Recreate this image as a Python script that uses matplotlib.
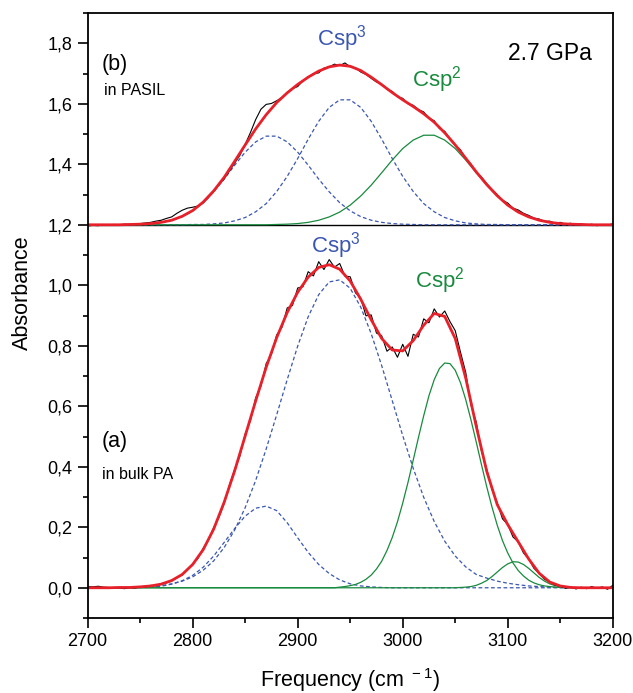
import numpy as np
import matplotlib
matplotlib.use('Agg')
import matplotlib.pyplot as plt
from matplotlib.ticker import MultipleLocator, FuncFormatter

plt.rcParams['font.family'] = ['Liberation Sans', 'DejaVu Sans']
plt.rcParams['mathtext.fontset'] = 'custom'
plt.rcParams['mathtext.rm'] = 'Liberation Sans'
plt.rcParams['mathtext.default'] = 'regular'

# frequency grids (cm-1)
freq_fit = np.arange(2700, 3201, 10)
freq_data = np.arange(2700, 3201, 5)

# (a) bulk PA - measured spectrum
bulk_data = [
    0.004, 0.003, 0.005, 0.002, 0.001, -0.002, 0.000, -0.003, 0.001, -0.001,
    0.003, 0.002, 0.008, 0.006, 0.014, 0.016, 0.022, 0.033, 0.042, 0.061,
    0.079, 0.097, 0.130, 0.158, 0.199, 0.233, 0.279, 0.340, 0.392, 0.436,
    0.509, 0.552, 0.628, 0.667, 0.741, 0.772, 0.836, 0.861, 0.925, 0.933,
    0.991, 0.995, 1.045, 1.031, 1.078, 1.052, 1.085, 1.060, 1.072, 1.030,
    1.028, 0.975, 0.958, 0.899, 0.902, 0.842, 0.833, 0.782, 0.796, 0.762,
    0.805, 0.765, 0.838, 0.829, 0.889, 0.876, 0.922, 0.895, 0.915, 0.880,
    0.850, 0.779, 0.712, 0.604, 0.548, 0.452, 0.392, 0.325, 0.281, 0.228,
    0.209, 0.168, 0.152, 0.115, 0.095, 0.064, 0.047, 0.028, 0.019, 0.009,
    0.005, -0.002, 0.003, -0.004, 0.002, -0.003, 0.004, -0.002, 0.003, -0.005,
    0.008]

# (a) fit and components
bulk_fit = [
    0.000, 0.000, 0.000, 0.001, 0.001, 0.003, 0.006, 0.012, 0.024, 0.044,
    0.077, 0.126, 0.194, 0.283, 0.387, 0.502, 0.618, 0.729, 0.827, 0.910,
    0.977, 1.027, 1.059, 1.068, 1.053, 1.014, 0.954, 0.886, 0.824, 0.786,
    0.783, 0.817, 0.868, 0.907, 0.897, 0.824, 0.693, 0.534, 0.385, 0.275,
    0.209, 0.152, 0.095, 0.048, 0.019, 0.006, 0.001, 0.000, 0.000, 0.000,
    0.000]
bulk_sp3_a = [
    0.000, 0.000, 0.000, 0.000, 0.000, 0.001, 0.002, 0.005, 0.012, 0.023,
    0.041, 0.068, 0.105, 0.150, 0.196, 0.237, 0.263, 0.270, 0.255, 0.215,
    0.165, 0.117, 0.077, 0.047, 0.026, 0.013, 0.006, 0.003, 0.001, 0.000,
    0.000, 0.000, 0.000, 0.000, 0.000, 0.000, 0.000, 0.000, 0.000, 0.000,
    0.000, 0.000, 0.000, 0.000, 0.000, 0.000, 0.000, 0.000, 0.000, 0.000,
    0.000]
bulk_sp3_b = [
    0.000, 0.000, 0.000, 0.001, 0.001, 0.002, 0.004, 0.007, 0.013, 0.022,
    0.036, 0.058, 0.089, 0.133, 0.191, 0.265, 0.355, 0.459, 0.572, 0.688,
    0.799, 0.896, 0.969, 1.011, 1.018, 0.990, 0.928, 0.840, 0.734, 0.619,
    0.503, 0.395, 0.299, 0.219, 0.154, 0.105, 0.069, 0.044, 0.032, 0.022,
    0.015, 0.010, 0.006, 0.004, 0.002, 0.001, 0.000, 0.000, 0.000, 0.000,
    0.000]
# the two sp2 bands are narrow, read on the 5 cm-1 grid
bulk_sp2_a = [
    0.000, 0.000, 0.000, 0.000, 0.000, 0.000, 0.000, 0.000, 0.000, 0.000,
    0.000, 0.000, 0.000, 0.000, 0.000, 0.000, 0.000, 0.000, 0.000, 0.000,
    0.000, 0.000, 0.000, 0.000, 0.000, 0.000, 0.000, 0.000, 0.000, 0.000,
    0.000, 0.000, 0.000, 0.000, 0.000, 0.000, 0.000, 0.000, 0.000, 0.000,
    0.000, 0.000, 0.000, 0.000, 0.000, 0.000, 0.000, 0.000, 0.002, 0.004,
    0.007, 0.011, 0.018, 0.028, 0.042, 0.062, 0.088, 0.123, 0.166, 0.218,
    0.280, 0.348, 0.422, 0.497, 0.569, 0.635, 0.688, 0.725, 0.743, 0.741,
    0.719, 0.678, 0.622, 0.555, 0.482, 0.407, 0.334, 0.267, 0.207, 0.156,
    0.115, 0.082, 0.057, 0.039, 0.025, 0.016, 0.010, 0.006, 0.004, 0.002,
    0.001, 0.001, 0.000, 0.000, 0.000, 0.000, 0.000, 0.000, 0.000, 0.000,
    0.000]
bulk_sp2_b = [
    0.000, 0.000, 0.000, 0.000, 0.000, 0.000, 0.000, 0.000, 0.000, 0.000,
    0.000, 0.000, 0.000, 0.000, 0.000, 0.000, 0.000, 0.000, 0.000, 0.000,
    0.000, 0.000, 0.000, 0.000, 0.000, 0.000, 0.000, 0.000, 0.000, 0.000,
    0.000, 0.000, 0.000, 0.000, 0.000, 0.000, 0.000, 0.000, 0.000, 0.000,
    0.000, 0.000, 0.000, 0.000, 0.000, 0.000, 0.000, 0.000, 0.000, 0.000,
    0.000, 0.000, 0.000, 0.000, 0.000, 0.000, 0.000, 0.000, 0.000, 0.000,
    0.000, 0.000, 0.000, 0.000, 0.000, 0.000, 0.000, 0.000, 0.000, 0.000,
    0.000, 0.001, 0.002, 0.004, 0.008, 0.015, 0.024, 0.037, 0.052, 0.067,
    0.079, 0.086, 0.085, 0.077, 0.064, 0.049, 0.034, 0.022, 0.013, 0.007,
    0.004, 0.002, 0.001, 0.000, 0.000, 0.000, 0.000, 0.000, 0.000, 0.000,
    0.000]

# (b) PASIL, 2.7 GPa - shifted up by 1.2
pasil_offset = 1.2
pasil_data = [
    -0.004, -0.002, -0.003, 0.000, -0.001, 0.001, 0.000, 0.002, 0.001, 0.003,
    0.004, 0.006, 0.008, 0.012, 0.015, 0.021, 0.026, 0.038, 0.048, 0.055,
    0.058, 0.062, 0.072, 0.090, 0.110, 0.132, 0.152, 0.178, 0.204, 0.230,
    0.266, 0.305, 0.348, 0.382, 0.398, 0.401, 0.410, 0.421, 0.438, 0.450,
    0.457, 0.476, 0.488, 0.500, 0.502, 0.518, 0.522, 0.531, 0.526, 0.535,
    0.522, 0.519, 0.505, 0.497, 0.484, 0.472, 0.465, 0.448, 0.441, 0.423,
    0.418, 0.400, 0.395, 0.381, 0.373, 0.352, 0.344, 0.318, 0.309, 0.283,
    0.262, 0.248, 0.218, 0.201, 0.172, 0.158, 0.136, 0.117, 0.100, 0.081,
    0.072, 0.055, 0.049, 0.038, 0.031, 0.022, 0.019, 0.011, 0.012, 0.005,
    0.008, 0.002, 0.005, -0.001, 0.003, -0.002, 0.002, -0.003, 0.001, -0.001,
    0.003]
pasil_fit = [
    0.000, 0.000, 0.000, 0.000, 0.001, 0.002, 0.004, 0.008, 0.015, 0.028,
    0.047, 0.075, 0.112, 0.157, 0.210, 0.264, 0.317, 0.364, 0.404, 0.436,
    0.464, 0.488, 0.508, 0.522, 0.528, 0.524, 0.510, 0.488, 0.463, 0.437,
    0.413, 0.391, 0.367, 0.339, 0.304, 0.264, 0.220, 0.175, 0.133, 0.096,
    0.065, 0.042, 0.026, 0.015, 0.008, 0.004, 0.002, 0.001, 0.000, 0.000,
    0.000]
pasil_sp3_a = [
    0.000, 0.000, 0.000, 0.000, 0.001, 0.002, 0.004, 0.008, 0.015, 0.027,
    0.046, 0.073, 0.109, 0.151, 0.197, 0.240, 0.274, 0.293, 0.293, 0.274,
    0.240, 0.197, 0.151, 0.109, 0.073, 0.046, 0.027, 0.015, 0.008, 0.004,
    0.002, 0.001, 0.000, 0.000, 0.000, 0.000, 0.000, 0.000, 0.000, 0.000,
    0.000, 0.000, 0.000, 0.000, 0.000, 0.000, 0.000, 0.000, 0.000, 0.000,
    0.000]
pasil_sp3_b = [
    0.000, 0.000, 0.000, 0.000, 0.000, 0.000, 0.000, 0.000, 0.000, 0.000,
    0.001, 0.001, 0.003, 0.006, 0.013, 0.024, 0.043, 0.070, 0.110, 0.160,
    0.219, 0.283, 0.342, 0.388, 0.413, 0.413, 0.388, 0.342, 0.283, 0.219,
    0.160, 0.110, 0.070, 0.043, 0.024, 0.013, 0.006, 0.003, 0.001, 0.001,
    0.000, 0.000, 0.000, 0.000, 0.000, 0.000, 0.000, 0.000, 0.000, 0.000,
    0.000]
pasil_sp2 = [
    0.000, 0.000, 0.000, 0.000, 0.000, 0.000, 0.000, 0.000, 0.000, 0.000,
    0.000, 0.000, 0.000, 0.000, 0.000, 0.000, 0.000, 0.000, 0.001, 0.002,
    0.004, 0.008, 0.015, 0.026, 0.042, 0.065, 0.095, 0.131, 0.172, 0.214,
    0.252, 0.280, 0.296, 0.296, 0.280, 0.252, 0.214, 0.172, 0.131, 0.095,
    0.065, 0.042, 0.026, 0.015, 0.008, 0.004, 0.002, 0.001, 0.000, 0.000,
    0.000]

red = '#e8202a'
blue = '#3b56b0'
green = '#188a3e'

fig = plt.figure(figsize=(6.33, 6.93), dpi=100)
ax = fig.add_axes([0.1385, 0.1082, 0.8295, 0.873])

dash = dict(color=blue, lw=0.9, ls=(0, (3, 2)))
sol = dict(color=green, lw=0.9)

# lower spectrum
ax.plot(freq_fit, bulk_sp3_a, **dash)
ax.plot(freq_fit, bulk_sp3_b, **dash)
ax.plot(freq_data, bulk_sp2_a, **sol)
ax.plot(freq_data, bulk_sp2_b, **sol)
ax.plot(freq_data, bulk_data, color='black', lw=0.8)
ax.plot(freq_fit, bulk_fit, color=red, lw=2.0)

# upper spectrum
ax.axhline(pasil_offset, color='black', lw=1.0)
ax.plot(freq_fit, np.array(pasil_sp3_a) + pasil_offset, **dash)
ax.plot(freq_fit, np.array(pasil_sp3_b) + pasil_offset, **dash)
ax.plot(freq_fit, np.array(pasil_sp2) + pasil_offset, **sol)
ax.plot(freq_data, np.array(pasil_data) + pasil_offset, color='black', lw=0.8)
ax.plot(freq_fit, np.array(pasil_fit) + pasil_offset, color=red, lw=2.0)

ax.set_xlim(2700, 3200)
ax.set_ylim(-0.1, 1.9)
ax.xaxis.set_major_locator(MultipleLocator(100))
ax.xaxis.set_minor_locator(MultipleLocator(50))
ax.yaxis.set_major_locator(MultipleLocator(0.2))
ax.yaxis.set_minor_locator(MultipleLocator(0.1))
ax.yaxis.set_major_formatter(FuncFormatter(lambda v, p: f'{v:.1f}'.replace('.', ',').replace('-0,0', '0,0')))
ax.tick_params(which='both', direction='out', top=False, right=False, labelsize=13, width=1.2, pad=4)
ax.tick_params(which='major', length=7)
ax.tick_params(which='minor', length=3.6)
for s in ax.spines.values():
    s.set_linewidth(1.3)

ax.set_xlabel('Frequency (cm$^{\\ -1}$)', fontsize=15.5)
ax.set_ylabel('Absorbance', fontsize=15.5)
ax.xaxis.set_label_coords(0.5, -0.08)
ax.yaxis.set_label_coords(-0.104, 0.537)

ax.text(2713, 1.73, '(b)', fontsize=15.5, va='center')
ax.text(2716, 1.645, 'in PASIL', fontsize=11.5, va='center')
ax.text(2918, 1.815, 'Csp$^3$', fontsize=16, color=blue, va='center')
ax.text(3100, 1.765, '2.7 GPa', fontsize=16.5, va='center')
ax.text(3009, 1.68, 'Csp$^2$', fontsize=16, color=green, va='center')

ax.text(2913, 1.13, 'Csp$^3$', fontsize=16, color=blue, va='center')
ax.text(3012, 1.015, 'Csp$^2$', fontsize=16, color=green, va='center')
ax.text(2713, 0.485, '(a)', fontsize=15.5, va='center')
ax.text(2714, 0.375, 'in bulk PA', fontsize=11.5, va='center')

plt.savefig('out.png', dpi=100)
